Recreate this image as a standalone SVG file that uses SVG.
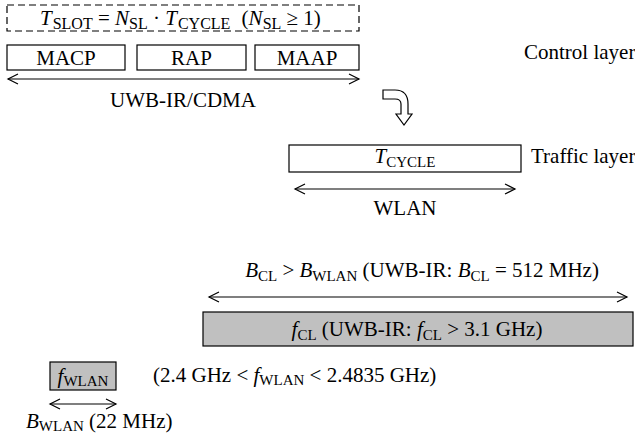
<svg xmlns="http://www.w3.org/2000/svg" width="635" height="439" viewBox="0 0 635 439">
<style>
text{font-family:"Liberation Serif","DejaVu Serif",serif;font-size:21px;fill:#000}
.s{font-size:15px}
.s2{font-size:16px}
.i{font-style:italic}
.box{fill:#fff;stroke:#000;stroke-width:1.2}
.grey{fill:#c0c0c0;stroke:#000;stroke-width:1.2}
.ln{stroke:#000;stroke-width:1.2;fill:none}
</style>
<defs>
<marker id="ah" markerUnits="userSpaceOnUse" markerWidth="14" markerHeight="14" refX="11" refY="6" orient="auto-start-reverse" viewBox="0 0 14 12">
<path d="M1,1 L11,6 L1,11" fill="none" stroke="#000" stroke-width="1.2"/>
</marker>
</defs>
<rect width="635" height="439" fill="#fff"/>
<g id="slot">
<rect x="7" y="5" width="352" height="26" fill="none" stroke="#000" stroke-width="1.2" stroke-dasharray="7,4"/>
<text x="40" y="25"><tspan class="i">T</tspan><tspan class="s2" dx="1" dy="4">SLOT</tspan><tspan dy="-4"> = </tspan><tspan class="i">N</tspan><tspan class="s2" dy="4">SL</tspan><tspan dy="-4"> · </tspan><tspan class="i">T</tspan><tspan class="s2" dx="1" dy="4">CYCLE</tspan><tspan dx="6" dy="-4"> (</tspan><tspan class="i">N</tspan><tspan class="s2" dy="4">SL</tspan><tspan dy="-4"> ≥ 1)</tspan></text>
</g>
<g id="macp"><rect class="box" x="7" y="45" width="118" height="25"/><text x="66" y="65" text-anchor="middle">MACP</text></g>
<g id="rap"><rect class="box" x="137" y="45" width="109" height="25"/><text x="191.5" y="65" text-anchor="middle">RAP</text></g>
<g id="maap"><rect class="box" x="255" y="45" width="104" height="25"/><text x="307" y="65" text-anchor="middle">MAAP</text></g>
<text id="control-layer" x="524" y="59">Control layer</text>
<text id="uwb-label" x="183" y="107" text-anchor="middle">UWB-IR/CDMA</text>
<g id="cycle"><rect class="box" x="289" y="145" width="232" height="27"/><text x="405" y="163" text-anchor="middle"><tspan class="i">T</tspan><tspan class="s" dy="4">CYCLE</tspan></text></g>
<text id="traffic-layer" x="531" y="163">Traffic layer</text>
<text id="wlan-label" x="405" y="215" text-anchor="middle">WLAN</text>
<text id="bcl-label" x="422" y="277" text-anchor="middle"><tspan class="i">B</tspan><tspan class="s" dy="4">CL</tspan><tspan dy="-4"> &gt; </tspan><tspan class="i">B</tspan><tspan class="s" dy="4">WLAN</tspan><tspan dy="-4"> (UWB-IR: </tspan><tspan class="i">B</tspan><tspan class="s" dy="4">CL</tspan><tspan dy="-4"> = 512 MHz)</tspan></text>
<g id="fcl"><rect class="grey" x="203" y="312" width="430" height="34"/><text x="417" y="336" text-anchor="middle"><tspan class="i">f</tspan><tspan class="s" dy="4">CL</tspan><tspan dy="-4"> (UWB-IR: </tspan><tspan class="i">f</tspan><tspan class="s" dy="4">CL</tspan><tspan dy="-4"> &gt; 3.1 GHz)</tspan></text></g>
<g id="fwlan"><rect class="grey" x="50" y="362" width="66" height="28"/><text x="83" y="383" text-anchor="middle"><tspan class="i">f</tspan><tspan class="s" dy="3">WLAN</tspan></text></g>
<text id="fwlan-range" x="153" y="382">(2.4 GHz &lt; <tspan class="i">f</tspan><tspan class="s" dy="3">WLAN</tspan><tspan dy="-3"> &lt; 2.4835 GHz)</tspan></text>
<text id="bwlan-label" x="26" y="428"><tspan class="i">B</tspan><tspan class="s" dy="3">WLAN</tspan><tspan dy="-3"> (22 MHz)</tspan></text>
<g id="connectors">
<line class="ln" x1="8" y1="79" x2="359" y2="79" marker-start="url(#ah)" marker-end="url(#ah)"/>
<line class="ln" x1="295" y1="189" x2="515" y2="189" marker-start="url(#ah)" marker-end="url(#ah)"/>
<line class="ln" x1="209" y1="297" x2="627" y2="297" marker-start="url(#ah)" marker-end="url(#ah)"/>
<line class="ln" x1="50" y1="404" x2="116" y2="404" marker-start="url(#ah)" marker-end="url(#ah)"/>
<path class="ln" d="M383,90 L395,90 Q408,90 408,104 L408,114 L412,114 L404,125 L396,114 L401,114 L401,104 Q401,99 395,99 L383,99 Z"/>
</g>
</svg>
